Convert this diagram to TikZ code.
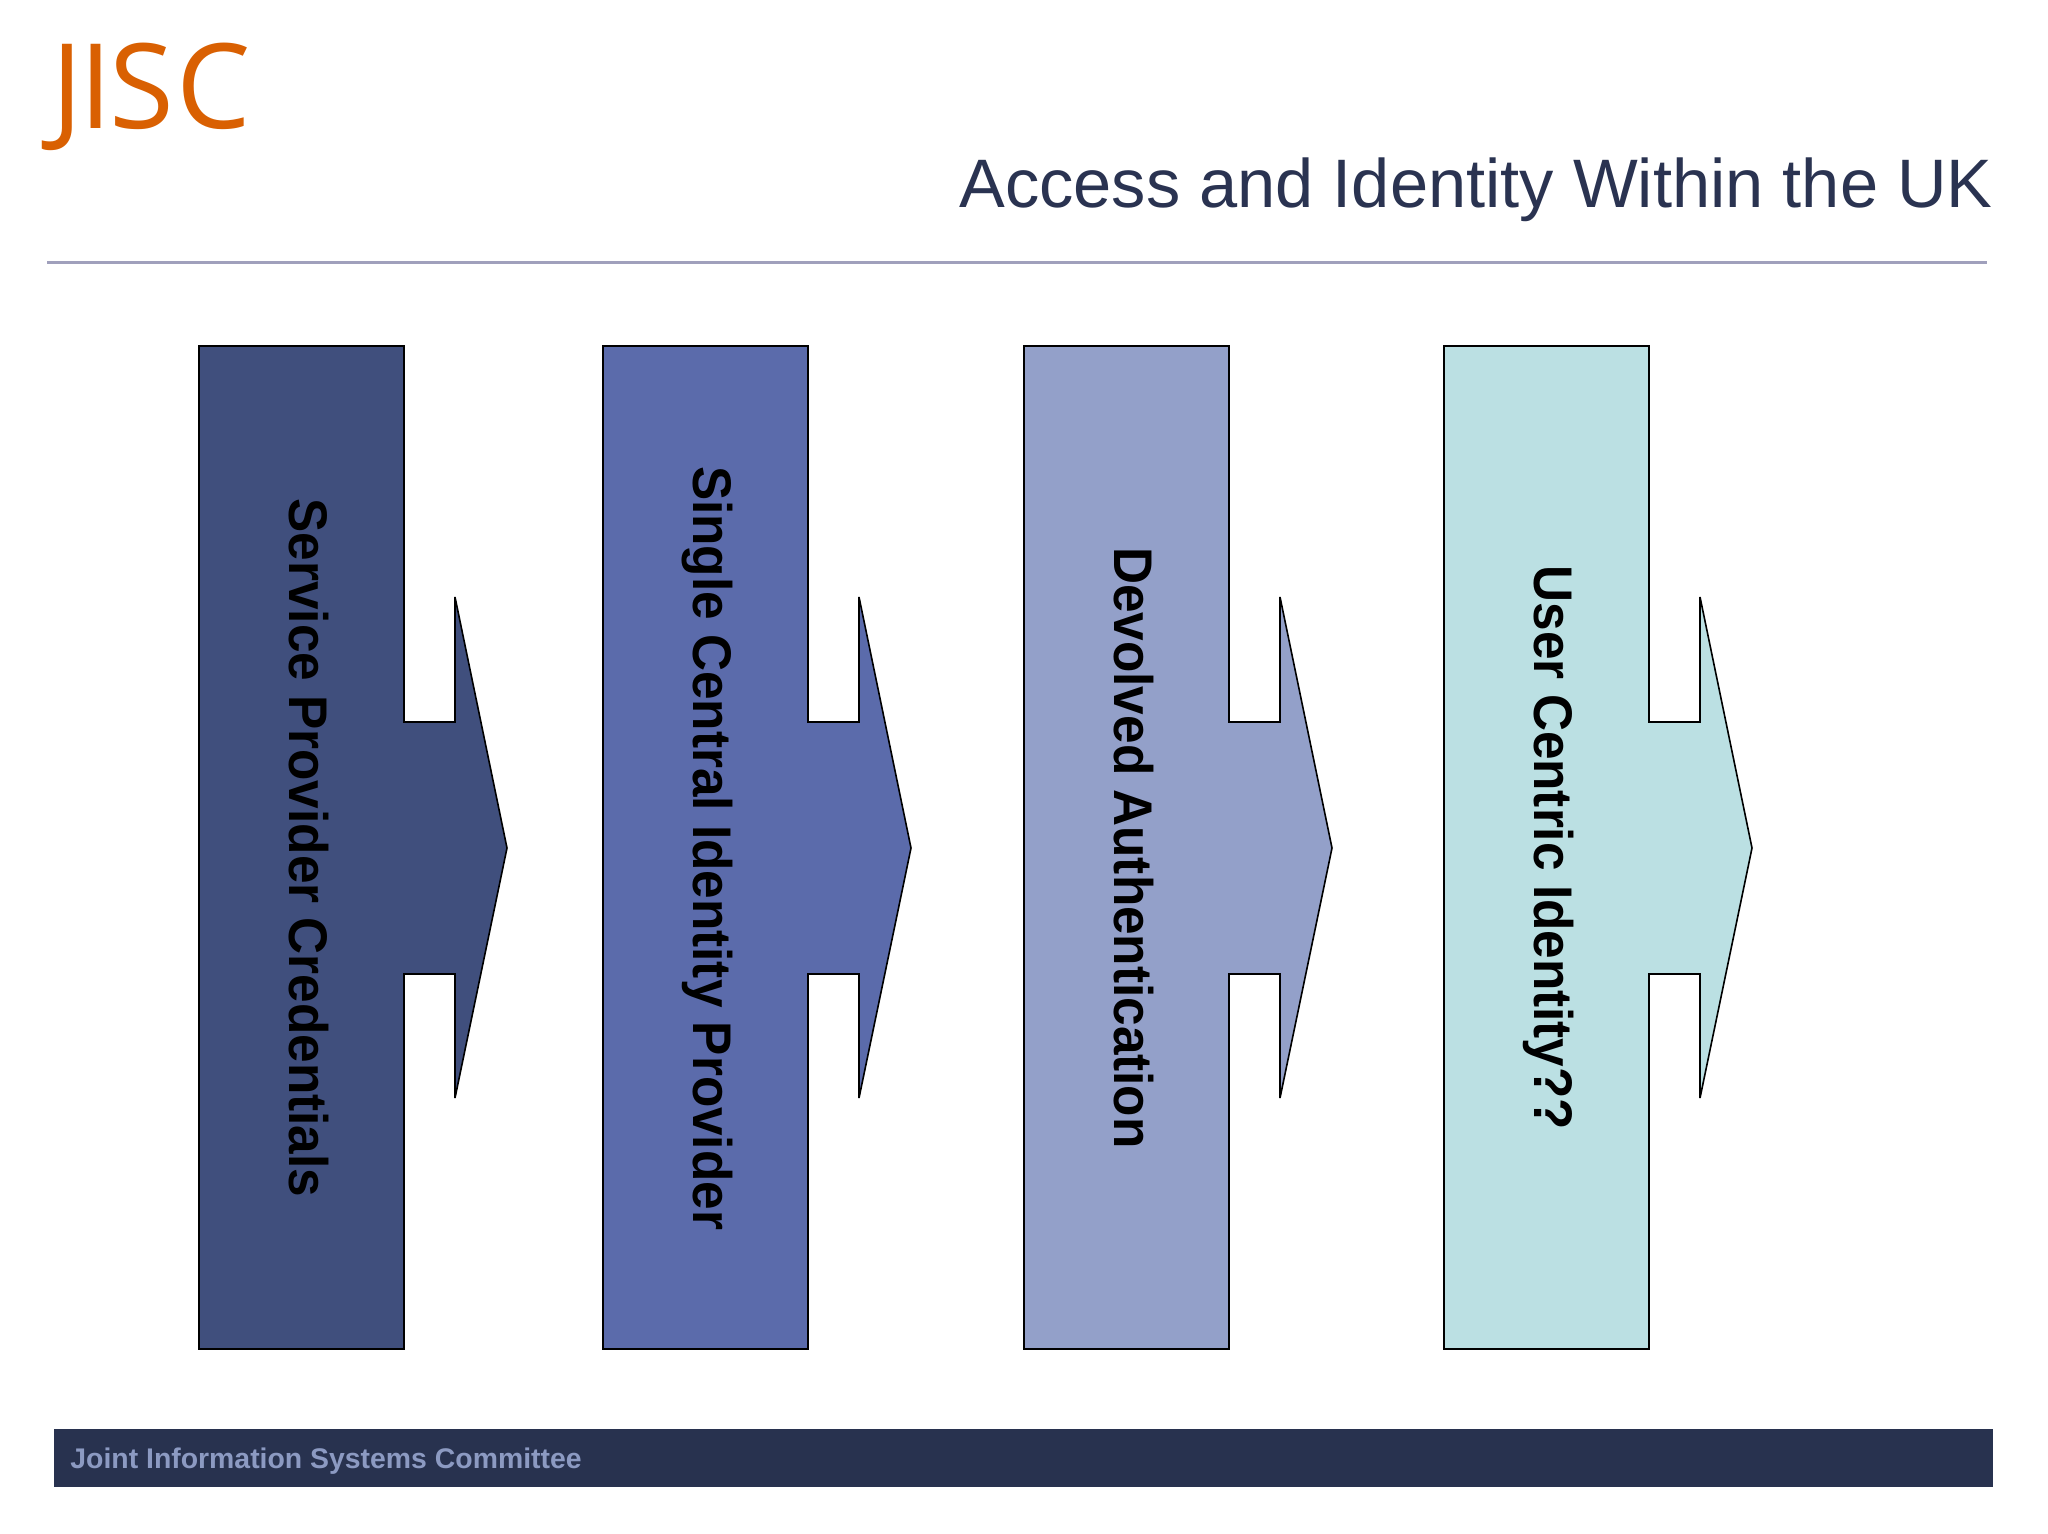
\documentclass[tikz,border=0pt]{standalone}
\usepackage{fontspec}
\setmainfont{Liberation Sans}
\newfontfamily\logofont{Open Sans}
\newfontfamily\stagefont[FakeStretch=0.943]{Liberation Sans}
\usepackage{tikz}
\definecolor{logoorange}{HTML}{D96002}
\definecolor{titleblue}{HTML}{2A3351}
\definecolor{ruleblue}{HTML}{A0A0BC}
\definecolor{footerblue}{HTML}{28324F}
\definecolor{footertext}{HTML}{8C9AC2}
\definecolor{stageone}{HTML}{404F7D}
\definecolor{stagetwo}{HTML}{5B6BAB}
\definecolor{stagethree}{HTML}{93A0C9}
\definecolor{stagefour}{HTML}{BBE0E3}
\tikzset{
    stagelabel/.style={rotate=-90, anchor=base, inner sep=0pt, font=\stagefont\bfseries\fontsize{27.2}{30}\selectfont, text=black},
}
% left edge, colour, node name, label
\newcommand{\stage}[4]{
    \draw[line width=0.8pt, fill=#2, miter limit=2] ( #1 , 346 ) -- ++( 205 , 0 ) -- ++( 0 , 376 ) -- ++( 51 , 0 ) -- ++( 0 , -125 )
        -- ++( 52 , 251 ) -- ++( -52 , 250 ) -- ++( 0 , -124 ) -- ++( -51 , 0 ) -- ++( 0 , 375 ) -- ++( -205 , 0 ) -- cycle;
    \node[stagelabel] (#3) at ( #1 + 90 , 848 ) {#4};}

\begin{document}
\begin{tikzpicture}[x=0.5pt, y=-0.5pt]
        \useasboundingbox[fill=white] (0,0) rectangle (2048,1534);
        % header
        \node[anchor=base west, inner sep=0pt, text=logoorange, font=\logofont\fontsize{59}{64}\selectfont] (logo) at (51,129) {J\kern-2pt I\kern-1pt S\kern1pt C};
        \node[anchor=base east, inner sep=0pt, text=titleblue, font=\fontsize{34.3}{38}\selectfont] (title) at (1993,208) {Access and Identity Within the UK};
        \draw[line width=1.2pt, draw=ruleblue] (47,262.5) -- (1987,262.5);
        % arrows
        \stage{199}{stageone}{provider}{Service Provider Credentials}
        \stage{603}{stagetwo}{central}{Single Central Identity Provider}
        \stage{1024}{stagethree}{devolved}{Devolved Authentication}
        \stage{1444}{stagefour}{user}{User Centric Identity??}
        % footer
        \fill[footerblue] (53.5,1429) rectangle (1993,1486.5);
        \node[anchor=base west, inner sep=0pt, text=footertext, font=\bfseries\fontsize{14.2}{16}\selectfont] (footer) at (70,1468) {Joint Information Systems Committee};
    \end{tikzpicture}
\end{document}
